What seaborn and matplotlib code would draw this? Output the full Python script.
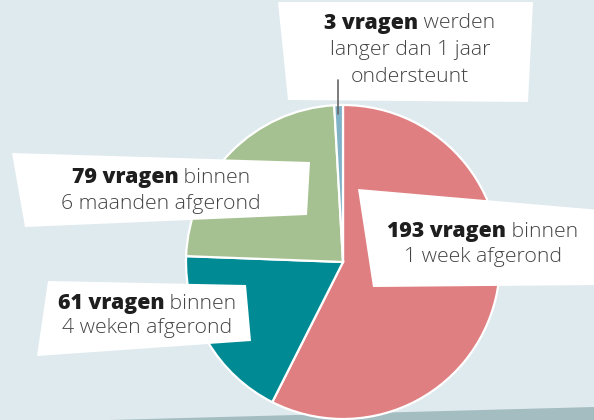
import numpy as np
import matplotlib
matplotlib.use("Agg")
import matplotlib.pyplot as plt
import seaborn as sns
from matplotlib.patches import Polygon

# data
counts = [193, 61, 79, 3]
bold_parts = ["193 vragen", "61 vragen", "79 vragen", "3 vragen"]
first_rest = [" binnen", " binnen", " binnen", " werden"]
second_lines = [["1 week afgerond"], ["4 weken afgerond"], ["6 maanden afgerond"],
                ["langer dan 1 jaar", "ondersteunt"]]
colors = ["#df7f81", "#008a94", "#a6c191", "#7fb2c6"]

sns.set_theme(style="white")
plt.rcParams['font.family'] = ['Open Sans', 'DejaVu Sans']

W, H = 594, 420
bg = "#dfeaee"
fig = plt.figure(figsize=(W / 100, H / 100), dpi=100, facecolor=bg)
ax = fig.add_axes([0, 0, 1, 1])
ax.set_facecolor(bg)


def P(x, y):
    # pixel coords from top-left -> data coords
    return (x, H - y)


# dark band at the bottom
ax.add_patch(Polygon([P(110, 420), P(594, 407), P(594, 420)], closed=True,
                     facecolor="#a4bdc1", edgecolor="none", zorder=0))

cx, cy = P(343, 262)
ax.pie(counts, colors=colors, startangle=90, counterclock=False,
       center=(cx, cy), radius=157, frame=True,
       wedgeprops=dict(edgecolor="white", linewidth=1.6))
ax.set_xlim(0, W)
ax.set_ylim(0, H)
ax.set_aspect("equal")
ax.axis("off")

# leader line for the small slice
ax.plot([338, 338], [H - 80, H - 114], color="#666666", lw=1.2, zorder=3)

# label boxes (pixel corners from top-left)
boxes = [
    [(358, 189), (600, 210), (600, 285), (373, 287)],
    [(48, 281), (246, 285), (251, 341), (37, 356)],
    [(12, 153), (310, 162), (307, 215), (25, 227)],
    [(278, 2), (533, 2), (528, 102), (288, 100)],
]
text_pos = [(483, 232, 25), (147, 304, 24), (161, 178, 26), (410, 23, 27)]

fs = 15.3
fig.canvas.draw()
renderer = fig.canvas.get_renderer()
for b in boxes:
    ax.add_patch(Polygon([P(*c) for c in b], closed=True, facecolor="white",
                         edgecolor="none", zorder=2))

for i in range(len(counts)):
    x, y, step = text_pos[i]
    t1 = ax.text(0, 0, bold_parts[i], fontsize=fs, fontweight="heavy",
                 color="#1e1e1e", va="center", ha="left", zorder=4)
    t2 = ax.text(0, 0, first_rest[i], fontsize=fs, fontweight="light",
                 color="#444444", va="center", ha="left", zorder=4)
    w1 = t1.get_window_extent(renderer).width
    w2 = t2.get_window_extent(renderer).width
    x0 = x - (w1 + w2) / 2
    t1.set_position(P(x0, y))
    t2.set_position(P(x0 + w1, y))
    for j, line in enumerate(second_lines[i]):
        ax.text(*P(x, y + step * (j + 1)), line, fontsize=fs, fontweight="light",
                color="#444444", va="center", ha="center", zorder=4)

fig.savefig("out.png", dpi=100, facecolor=bg)
